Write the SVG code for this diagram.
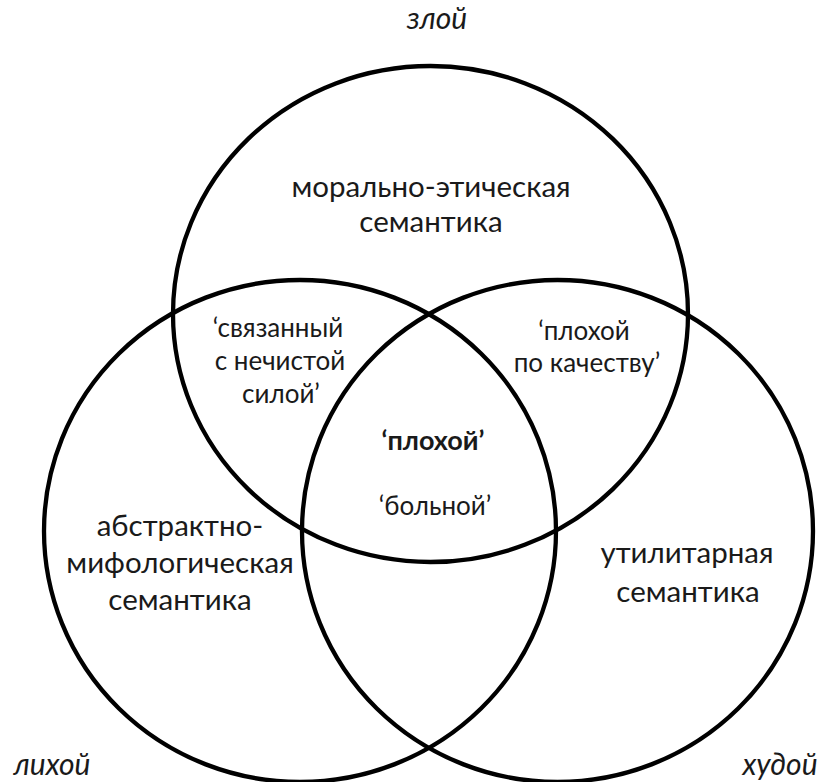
<svg xmlns="http://www.w3.org/2000/svg" width="823" height="782" viewBox="0 0 823 782">
<style>
.c{fill:none;stroke:#000;stroke-width:4.3}
text{font-family:Lato,"Noto Sans",sans-serif;fill:#1a1a1a;text-anchor:middle}
.l{font-size:29.5px}
.s{font-size:26px}
.b{font-size:27px;font-weight:bold}
.i{font-size:30px;font-style:italic}
</style>
<rect width="823" height="782" fill="#fff"/>
<g id="connectors"></g>
<g id="top-circle">
<ellipse class="c" cx="430.5" cy="314" rx="257.5" ry="248"/>
<text class="l" x="431" y="197">морально-этическая</text>
<text class="l" x="431" y="232">семантика</text>
</g>
<g id="left-circle">
<ellipse class="c" cx="300" cy="531" rx="256" ry="251"/>
<text class="l" x="180" y="536">абстрактно-</text>
<text class="l" x="180" y="573">мифологическая</text>
<text class="l" x="180" y="610">семантика</text>
</g>
<g id="right-circle">
<ellipse class="c" cx="557.5" cy="531" rx="255.5" ry="251"/>
<text class="l" x="687" y="563">утилитарная</text>
<text class="l" x="688" y="602">семантика</text>
</g>
<g id="top-left-overlap">
<text class="s" x="278" y="337">‘связанный</text>
<text class="s" x="280" y="370">с нечистой</text>
<text class="s" x="281" y="403">силой’</text>
</g>
<g id="top-right-overlap">
<text class="s" x="584" y="340">‘плохой</text>
<text class="s" x="587" y="372">по качеству’</text>
</g>
<g id="center">
<text class="b" x="433" y="450">‘плохой’</text>
<text class="s" x="435" y="515">‘больной’</text>
</g>
<g id="labels">
<text class="i" x="437" y="29">злой</text>
<text class="i" x="52" y="775">лихой</text>
<text class="i" x="780" y="775">худой</text>
</g>
</svg>
